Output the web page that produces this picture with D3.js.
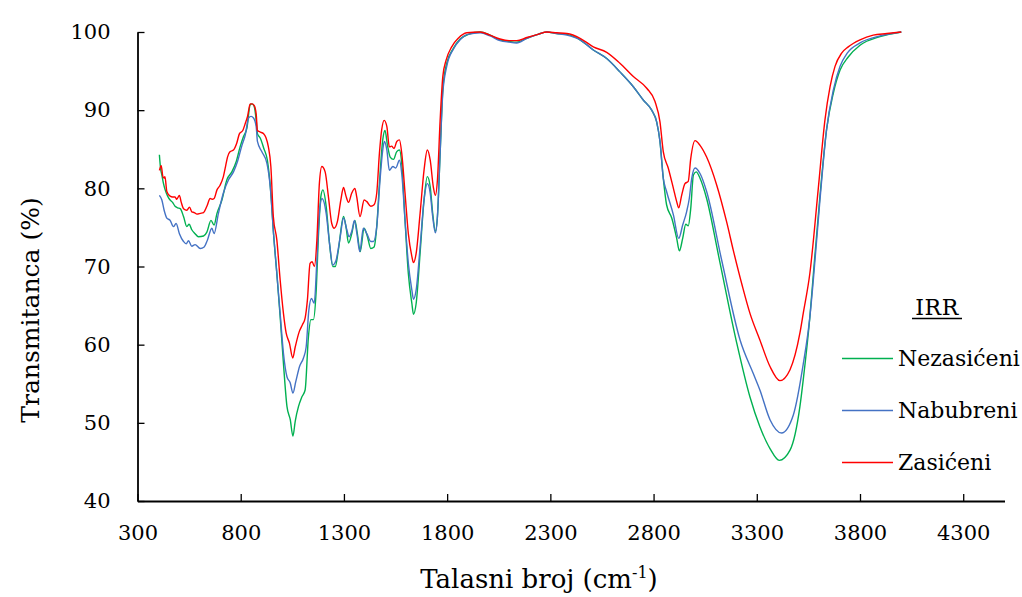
<!DOCTYPE html>
<html>
<head>
<meta charset="utf-8">
<script src="https://cdn.jsdelivr.net/npm/d3@7"></script>
<style>
  html, body { margin: 0; padding: 0; background: #fff; }
  svg { display: block; }
</style>
</head>
<body>
<svg id="chart" width="1022" height="597"></svg>
<script>
// FTIR spectra: wavenumber (cm-1) and transmittance (%) for each sample
const nezasiceni = [
  [406,84.3],[412,82.5],[418,81.7],[426,80.6],[434,79.8],[446,79.0],[458,78.5],[470,78.2],[482,77.7],[495,77.5],
  [507,77.4],[523,76.4],[539,75.1],[550,75.4],[563,74.7],[579,74.2],[595,73.8],[620,73.9],[636,74.4],[656,75.9],
  [671,75.3],[685,76.8],[709,78.5],[733,81.1],[757,82.1],[778,83.4],[797,85.3],[813,86.6],[830,87.7],[846,90.7],
  [855,90.8],[865,90.5],[875,88.7],[881,87.0],[895,86.4],[912,85.1],[929,83.6],[946,79.4],[959,74.2],[975,69.1],
  [991,63.6],[1007,57.6],[1024,52.1],[1040,50.4],[1053,48.3],[1064,50.2],[1080,52.1],[1096,53.3],[1112,54.2],[1128,61.0],
  [1140,63.2],[1152,63.2],[1165,66.6],[1177,74.2],[1188,78.9],[1198,79.8],[1214,77.7],[1230,73.0],[1246,70.0],[1258,70.0],
  [1273,72.1],[1298,76.4],[1311,74.9],[1322,73.0],[1338,74.2],[1353,75.9],[1365,74.2],[1379,71.9],[1398,74.9],[1414,73.8],
  [1430,72.3],[1446,72.5],[1459,75.1],[1472,80.6],[1488,86.2],[1499,87.4],[1511,85.5],[1524,84.0],[1540,83.7],[1556,84.7],
  [1569,84.9],[1580,83.2],[1596,75.9],[1612,69.1],[1629,65.3],[1637,63.9],[1650,65.3],[1669,71.7],[1688,78.5],[1704,81.5],
  [1718,80.2],[1730,76.8],[1743,74.5],[1753,76.4],[1766,84.5],[1779,92.6],[1798,96.0],[1830,97.9],[1863,99.1],[1903,99.7],
  [1960,100],[2008,99.6],[2056,99.0],[2100,98.8],[2137,98.7],[2186,99.2],[2240,99.7],[2283,100],[2330,99.8],[2380,99.7],
  [2444,99.0],[2508,97.7],[2573,96.6],[2637,94.9],[2702,93.0],[2750,91.3],[2791,90.0],[2815,88.5],[2831,86.0],[2847,81.3],
  [2863,77.9],[2888,76.2],[2912,73.6],[2925,72.0],[2941,73.6],[2956,75.4],[2968,75.2],[2980,77.4],[2993,81.7],[3006,82.1],
  [3025,81.3],[3057,78.7],[3114,71.5],[3203,60.2],[3267,53.3],[3315,49.5],[3364,46.7],[3409,45.2],[3461,46.5],[3509,52.1],
  [3525,55.5],[3557,63.5],[3574,69.0],[3606,79.0],[3638,87.5],[3671,92.2],[3703,95.1],[3743,96.8],[3800,98.3],[3897,99.4],
  [4000,100]
];

const nabubreni = [
  [406,79.1],[418,78.5],[429,77.2],[442,76.2],[458,75.9],[474,75.1],[487,75.5],[503,74.2],[523,73.2],[536,72.9],
  [547,73.3],[563,72.6],[579,72.8],[604,72.3],[623,72.5],[639,73.4],[660,74.9],[671,74.2],[692,76.8],[716,79.4],
  [741,81.1],[765,82.1],[784,83.4],[806,85.5],[822,86.8],[838,89.0],[850,89.2],[862,89.0],[875,87.9],[881,86.0],
  [902,84.7],[927,83.2],[943,80.2],[959,74.2],[975,69.1],[991,64.0],[1007,58.9],[1024,55.9],[1040,55.1],[1053,53.8],
  [1067,55.3],[1085,57.2],[1104,58.3],[1117,59.7],[1130,64.4],[1143,65.9],[1156,65.3],[1169,70.8],[1181,76.8],[1194,78.7],
  [1214,76.8],[1230,73.0],[1246,70.2],[1262,70.8],[1282,73.8],[1298,76.2],[1314,74.7],[1325,73.8],[1338,74.5],[1351,75.9],
  [1363,74.2],[1377,71.9],[1394,74.9],[1411,74.2],[1430,73.2],[1443,73.2],[1459,75.1],[1475,81.1],[1488,84.9],[1496,86.0],
  [1508,84.9],[1520,82.3],[1537,82.8],[1551,82.6],[1569,83.6],[1580,81.9],[1596,75.9],[1612,70.4],[1629,67.0],[1637,65.8],
  [1650,67.0],[1669,72.5],[1688,78.5],[1704,80.6],[1718,79.4],[1730,76.4],[1743,74.3],[1753,76.4],[1766,84.5],[1779,92.2],
  [1798,95.6],[1830,97.8],[1863,99.0],[1900,99.7],[1960,99.9],[2008,99.5],[2056,98.9],[2100,98.7],[2137,98.6],[2186,99.2],
  [2240,99.7],[2283,100],[2330,99.8],[2380,99.6],[2444,99.0],[2508,97.7],[2573,96.6],[2637,94.9],[2702,93.0],[2750,91.3],
  [2791,90.0],[2815,88.5],[2831,86.0],[2847,81.3],[2863,79.6],[2896,76.6],[2922,73.6],[2941,75.3],[2960,77.0],[2973,78.7],
  [2985,81.3],[3001,82.6],[3025,81.9],[3057,79.6],[3130,70.8],[3219,60.6],[3283,56.3],[3315,54.2],[3364,50.4],[3420,48.7],
  [3477,51.0],[3525,57.5],[3557,63.5],[3574,68.3],[3606,78.5],[3638,87.5],[3671,92.6],[3703,95.6],[3738,97.3],[3800,98.6],
  [3897,99.5],[4000,100]
];

const zasiceni = [
  [406,82.3],[415,82.9],[422,81.6],[428,81.3],[433,81.5],[442,79.6],[458,79.0],[470,78.9],[482,78.9],[490,78.6],
  [503,79.1],[512,78.2],[523,77.4],[539,77.2],[552,77.6],[563,77.0],[575,76.9],[588,76.7],[605,76.8],[620,76.9],
  [636,77.7],[652,78.7],[662,78.6],[671,78.7],[685,79.8],[700,80.4],[716,81.5],[728,83.0],[736,84.0],[749,84.7],
  [765,84.9],[781,85.8],[794,87.0],[810,87.4],[822,88.3],[833,89.2],[846,90.8],[855,90.8],[865,90.6],[875,89.5],
  [881,87.4],[895,87.2],[910,87.0],[922,86.5],[934,85.3],[946,82.8],[958,76.4],[975,73.4],[991,68.3],[1007,64.0],
  [1020,61.5],[1036,60.2],[1052,58.3],[1064,59.7],[1084,61.7],[1100,62.6],[1112,63.4],[1123,65.7],[1136,70.4],[1146,70.6],
  [1157,70.0],[1169,73.4],[1181,80.6],[1193,82.8],[1209,82.1],[1225,78.9],[1241,75.5],[1253,74.9],[1268,75.7],[1285,78.5],
  [1298,80.1],[1309,79.1],[1322,78.2],[1338,79.4],[1353,80.0],[1362,78.9],[1378,76.4],[1398,78.5],[1411,78.3],[1430,77.7],
  [1446,77.9],[1459,79.4],[1472,84.5],[1483,87.5],[1495,88.7],[1508,87.9],[1520,85.3],[1531,85.4],[1543,85.1],[1556,86.0],
  [1569,86.2],[1580,84.5],[1596,79.4],[1612,74.2],[1629,71.3],[1637,70.5],[1650,71.7],[1669,76.8],[1688,82.3],[1704,84.9],
  [1718,83.6],[1733,80.2],[1743,79.1],[1753,81.1],[1766,88.7],[1779,94.3],[1795,96.4],[1822,98.1],[1854,99.2],[1895,99.9],
  [1960,100],[2008,99.6],[2056,99.1],[2100,98.9],[2137,98.9],[2186,99.3],[2240,99.7],[2283,100],[2330,99.9],[2380,99.8],
  [2444,99.2],[2508,98.1],[2573,97.4],[2637,96.0],[2702,94.3],[2767,92.8],[2807,91.1],[2831,88.5],[2847,84.7],[2871,82.6],
  [2896,80.0],[2912,78.3],[2922,77.5],[2936,79.1],[2952,80.6],[2968,80.9],[2980,83.8],[3001,86.1],[3025,85.5],[3057,84.0],
  [3106,80.4],[3154,75.7],[3186,72.1],[3230,67.5],[3267,64.0],[3315,60.6],[3364,57.2],[3412,55.4],[3461,56.8],[3509,61.5],
  [3525,64.0],[3557,69.1],[3598,80.0],[3630,88.7],[3655,93.0],[3679,95.6],[3711,97.3],[3743,98.1],[3800,99.0],[3864,99.6],
  [3930,99.8],[4000,100]
];

const seriesNames = ["Nezasićeni", "Nabubreni", "Zasićeni"];
const seriesColors = ["#00b050", "#4472c4", "#ff0000"];
const seriesData = [nezasiceni, nabubreni, zasiceni];

const xTicks = [300, 800, 1300, 1800, 2300, 2800, 3300, 3800, 4300];
const yTicks = [40, 50, 60, 70, 80, 90, 100];
const legendTitle = "IRR";

const FONT = "'DejaVu Serif', 'Liberation Serif', serif";

const svg = d3.select("#chart");

const x = d3.scaleLinear().domain([300, 4500]).range([137.5, 1004.5]);
const y = d3.scaleLinear().domain([40, 100]).range([501, 32]);

// Spectra
const line = d3.line()
  .x(d => x(d[0]))
  .y(d => y(d[1]))
  .curve(d3.curveMonotoneX);

svg.append("g").attr("class", "series")
  .selectAll("path")
  .data(seriesData)
  .join("path")
  .attr("d", line)
  .attr("fill", "none")
  .attr("stroke", (d, i) => seriesColors[i])
  .attr("stroke-width", 1.4)
  .attr("stroke-linejoin", "round");

// Axes with inward ticks
const xAxis = svg.append("g")
  .attr("transform", `translate(0,${y(40)})`)
  .call(d3.axisBottom(x).tickValues(xTicks).tickFormat(d3.format("d"))
    .tickSizeInner(-7).tickSizeOuter(0).tickPadding(24));

const yAxis = svg.append("g")
  .attr("transform", `translate(${x(300)},0)`)
  .call(d3.axisLeft(y).tickValues(yTicks).tickFormat(d3.format("d"))
    .tickSizeInner(-7).tickSizeOuter(0).tickPadding(27));

[xAxis, yAxis].forEach(g => {
  g.attr("font-family", FONT).attr("font-size", 21);
  g.select(".domain").attr("stroke", "#000").attr("stroke-width", 1.8);
  g.selectAll(".tick line").attr("stroke", "#000").attr("stroke-width", 1.3);
  g.selectAll(".tick text").attr("fill", "#000");
});

// Axis titles
svg.append("text")
  .attr("transform", "translate(39,310) rotate(-90)")
  .attr("text-anchor", "middle")
  .attr("font-family", FONT)
  .attr("font-size", 25)
  .text("Transmitanca (%)");

const xTitle = svg.append("text")
  .attr("x", 539)
  .attr("y", 588)
  .attr("text-anchor", "middle")
  .attr("font-family", FONT)
  .attr("font-size", 26);
xTitle.append("tspan").text("Talasni broj (cm");
xTitle.append("tspan").attr("font-size", 16).attr("dy", -10).text("-1");
xTitle.append("tspan").attr("dy", 10).text(")");

// Legend
const legend = svg.append("g").attr("font-family", FONT).attr("font-size", 22);
legend.append("text")
  .attr("x", 937)
  .attr("y", 315)
  .attr("text-anchor", "middle")
  .attr("letter-spacing", 0.6)
  .text(legendTitle);
legend.append("line")
  .attr("x1", 912).attr("x2", 962)
  .attr("y1", 318.5).attr("y2", 318.5)
  .attr("stroke", "#000").attr("stroke-width", 1.3);

const legendRows = [358.5, 410.5, 462.5];
seriesNames.forEach((name, i) => {
  legend.append("line")
    .attr("x1", 842).attr("x2", 893)
    .attr("y1", legendRows[i]).attr("y2", legendRows[i])
    .attr("stroke", seriesColors[i]).attr("stroke-width", 1.4);
  legend.append("text")
    .attr("x", 898)
    .attr("y", legendRows[i] + 7)
    .text(name);
});
</script>
</body>
</html>
